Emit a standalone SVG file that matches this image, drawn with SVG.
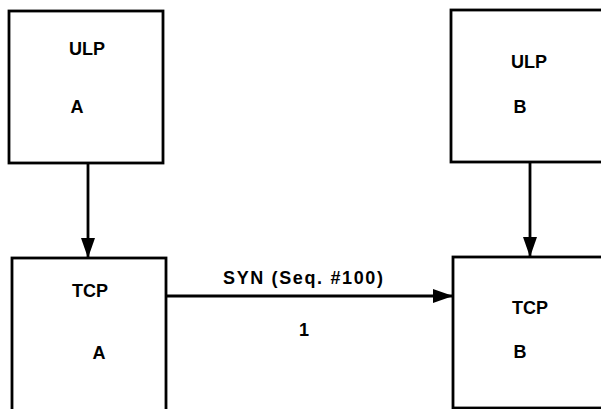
<svg xmlns="http://www.w3.org/2000/svg" width="601" height="409" viewBox="0 0 601 409">
<style>
.box{fill:#fff;stroke:#000;stroke-width:2.8}
.lbl{font-family:"Liberation Sans",Arial,sans-serif;font-weight:bold;font-size:18px;fill:#000;text-anchor:middle}
.conn{stroke:#000;stroke-width:2.8;fill:none}
</style>
<defs>
<marker id="ah" markerUnits="userSpaceOnUse" viewBox="0 0 20 14" refX="20" refY="7" markerWidth="20" markerHeight="14" orient="auto">
<path d="M0,0 L20,7 L0,14 Z" fill="#000"/>
</marker>
</defs>
<rect width="601" height="409" fill="#fff"/>
<g id="ulpA">
<rect class="box" x="9" y="11" width="154" height="152"/>
<text class="lbl" x="87" y="55">ULP</text>
<text class="lbl" x="77" y="113">A</text>
</g>
<g id="ulpB">
<rect class="box" x="451" y="10" width="200" height="152"/>
<text class="lbl" x="529" y="68">ULP</text>
<text class="lbl" x="520" y="113">B</text>
</g>
<g id="tcpA">
<rect class="box" x="12" y="258" width="154" height="160"/>
<text class="lbl" x="90" y="297">TCP</text>
<text class="lbl" x="99" y="359">A</text>
</g>
<g id="tcpB">
<rect class="box" x="453" y="257" width="200" height="151"/>
<text class="lbl" x="530" y="314">TCP</text>
<text class="lbl" x="520" y="358">B</text>
</g>
<g id="connectors">
<line class="conn" x1="88" y1="163" x2="88" y2="258" marker-end="url(#ah)"/>
<line class="conn" x1="530" y1="162" x2="530" y2="257" marker-end="url(#ah)"/>
<line class="conn" x1="166" y1="296" x2="453" y2="296" marker-end="url(#ah)"/>
<text class="lbl" x="303" y="284" textLength="160" lengthAdjust="spacing">SYN (Seq. #100)</text>
<text class="lbl" x="304" y="336">1</text>
</g>
</svg>
